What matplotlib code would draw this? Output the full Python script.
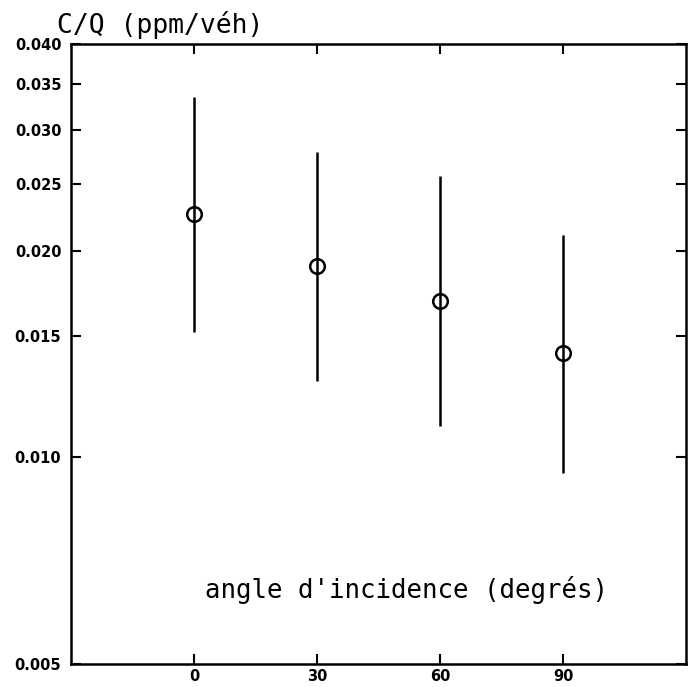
import numpy as np
import matplotlib
matplotlib.use("Agg")
import matplotlib.pyplot as plt
from matplotlib.ticker import FixedLocator, FixedFormatter, NullLocator

# angle d'incidence et C/Q
angles = [0, 30, 60, 90]
cq_moy = [0.0226, 0.0190, 0.0169, 0.0142]
cq_haut = [0.0335, 0.0278, 0.0257, 0.0211]
cq_bas = [0.0152, 0.0129, 0.0111, 0.0095]

y_ticks = [0.005, 0.010, 0.015, 0.020, 0.025, 0.030, 0.035, 0.040]
y_labels = ['0.005', '0.010', '0.015', '0.020', '0.025', '0.030', '0.035', '0.040']
x_ticks = [0, 30, 60, 90]
x_labels = ['0', '30', '60', '90']

fig = plt.figure(figsize=(6.88, 6.87), dpi=100)
ax = fig.add_axes([0.1032, 0.0335, 0.8939, 0.9025])

err = [np.array(cq_moy) - np.array(cq_bas), np.array(cq_haut) - np.array(cq_moy)]
ax.errorbar(angles, cq_moy, yerr=err, fmt='o', color='black', mfc='none',
            mec='black', ms=10.5, mew=1.8, elinewidth=1.8, capsize=0)

ax.set_yscale('log')
ax.set_ylim(0.005, 0.040)
ax.set_xlim(-30, 120)
ax.yaxis.set_major_locator(FixedLocator(y_ticks))
ax.yaxis.set_major_formatter(FixedFormatter(y_labels))
ax.yaxis.set_minor_locator(NullLocator())
ax.set_xticks(x_ticks)
ax.set_xticklabels(x_labels)

for s in ax.spines.values():
    s.set_linewidth(1.8)
ax.tick_params(direction='in', length=7, width=1.5, top=True, right=True,
               labelsize=10.5)
ax.tick_params(axis='y', pad=7)
for lab in ax.get_xticklabels() + ax.get_yticklabels():
    lab.set_fontweight('bold')

ax.text(0.545, 0.119, "angle d'incidence (degrés)", transform=ax.transAxes,
        ha='center', va='center', fontsize=18.5, family='DejaVu Sans Mono')
fig.text(57/688, 1 - 33/687, "C/Q (ppm/véh)", ha='left', va='baseline',
         fontsize=19, family='DejaVu Sans Mono')

fig.savefig('out.png', dpi=100)
